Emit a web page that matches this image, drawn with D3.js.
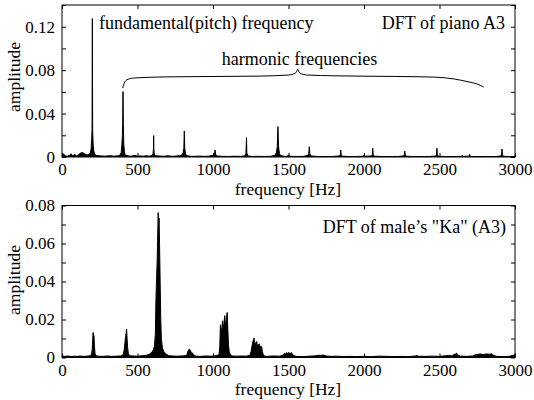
<!DOCTYPE html>
<html><head><meta charset="utf-8">
<script src="https://cdn.jsdelivr.net/npm/d3@7/dist/d3.min.js"></script>
<style>body{margin:0;background:#fff}svg{display:block}svg text{font-family:'Liberation Serif',Tinos,'Times New Roman',Times,serif !important;fill:#000}</style>
</head><body><svg id="c" width="534" height="400"></svg>
<script>
// ---- data ----
const xTicks = [0, 500, 1000, 1500, 2000, 2500, 3000];
const pianoYTicks = [0, 0.04, 0.08, 0.12];
const pianoYMinor = [0, 0.02, 0.04, 0.06, 0.08, 0.10, 0.12, 0.14];
const voiceYTicks = [0, 0.02, 0.04, 0.06, 0.08];
const voiceYMinor = [0, 0.01, 0.02, 0.03, 0.04, 0.05, 0.06, 0.07, 0.08];

const pianoFreq = [0,10,20,35,50,60,70,85,95,110,120,130,140,150,160,170,180,188,
 193,197,199,201,203,206,210,215,225,
 240,260,280,300,320,340,360,380,392,
 396,400,402,404,406,409,414,420,
 440,460,480,500,520,540,560,580,598,
 603,606,607,608,611,616,
 640,660,680,700,720,740,760,780,795,
 802,807,810,813,818,826,
 850,880,910,940,970,995,1000,1005,
 1010,1014,1016,1022,
 1060,1100,1140,1180,1210,
 1218,1222,1224,1230,
 1260,1300,1340,1380,1410,
 1420,1426,1430,1434,1440,1450,
 1480,1494,1499,1504,1520,1560,1600,1628,
 1634,1638,1641,1648,
 1690,1740,1790,1838,
 1843,1846,1849,1856,
 1900,1950,1996,2000,2004,2050,
 2055,2058,2061,2068,
 2120,2170,2220,2262,
 2267,2270,2273,2280,
 2330,2380,2430,2475,
 2480,2483,2486,2494,
 2550,2600,2647,2651,2655,2695,
 2698,2700,2702,2708,
 2760,2820,2870,2908,
 2911,2914,2917,2925,
 2960,3000];
const pianoAmp = [0.0015,0.003,0.001,0.0008,0.0015,0.003,0.0012,0.0025,0.001,0.002,0.0035,0.004,0.0038,0.003,0.002,0.002,0.0025,0.004,
 0.008,0.018,0.025,0.1275,0.025,0.012,0.006,0.003,0.0015,
 0.0012,0.001,0.0008,0.001,0.0012,0.0008,0.001,0.0012,0.004,
 0.01,0.02,0.031,0.0603,0.031,0.012,0.004,0.0015,
 0.001,0.0008,0.0015,0.0008,0.001,0.0008,0.0012,0.0008,0.0015,
 0.003,0.008,0.0197,0.008,0.003,0.0012,
 0.001,0.0008,0.0007,0.0012,0.0008,0.0007,0.001,0.0012,0.002,
 0.004,0.008,0.024,0.008,0.003,0.0012,
 0.0007,0.0006,0.0008,0.0006,0.0007,0.0015,0.0008,0.0009,
 0.0025,0.0065,0.0035,0.001,
 0.0006,0.0005,0.0007,0.0006,0.001,
 0.003,0.0178,0.004,0.001,
 0.0005,0.0006,0.0005,0.0006,0.0015,
 0.004,0.01,0.028,0.01,0.003,0.0012,
 0.0005,0.0008,0.002,0.0008,0.0006,0.0005,0.0006,0.0015,
 0.003,0.0095,0.003,0.001,
 0.0005,0.0004,0.0005,0.001,
 0.002,0.0065,0.002,0.0008,
 0.0004,0.0005,0.0007,0.0018,0.0007,0.001,
 0.002,0.008,0.002,0.0008,
 0.0004,0.0005,0.0004,0.001,
 0.002,0.0055,0.002,0.0007,
 0.0004,0.0005,0.0004,0.001,
 0.002,0.008,0.002,0.0007,
 0.0004,0.0005,0.0006,0.0015,0.0006,0.0008,
 0.0012,0.0025,0.0012,0.0005,
 0.0004,0.0005,0.0004,0.001,
 0.002,0.0074,0.002,0.0006,
 0.0004,0.0005];

const voiceFreq = [0,20,40,60,80,100,120,140,160,180,195,
 200,203,206,209,212,215,219,225,
 240,270,300,330,360,390,405,
 412,417,421,425,428,431,435,440,448,
 470,500,530,560,580,595,605,612,618,622,626,630,634,637,640,643,646,650,654,658,665,675,690,705,
 730,760,790,815,828,835,842,848,855,865,875,890,
 920,950,980,1010,1030,
 1040,1045,1049,1053,1058,1063,1067,1072,1078,1083,1088,1094,1098,1103,1108,1116,1130,
 1160,1190,1220,1245,
 1252,1258,1265,1272,1277,1282,1289,1294,1300,1307,1312,1317,1322,1327,1334,1345,
 1360,1400,1440,1465,1472,1480,1488,1495,1502,1510,1518,1526,1534,1550,
 1600,1640,1680,1700,1715,1730,1748,1780,1820,1860,1900,1950,2000,2050,2100,2150,2200,2250,2300,2340,2350,2360,2400,2450,2500,2540,2560,2580,2595,2605,2614,2620,2640,2680,2720,2735,2750,2770,2790,2810,2830,2846,2860,2880,2920,2960,2990,3000];
const voiceAmp = [0.0008,0.0006,0.0008,0.0005,0.0007,0.0006,0.0008,0.0006,0.0007,0.0008,0.0015,
 0.004,0.009,0.0132,0.011,0.0115,0.006,0.002,0.0009,
 0.0007,0.0006,0.0008,0.0006,0.0007,0.0008,0.0015,
 0.004,0.008,0.011,0.013,0.0149,0.01,0.005,0.002,0.0009,
 0.0008,0.0007,0.0009,0.0012,0.0018,0.0028,0.004,0.006,0.012,0.03,0.041,0.05,0.065,0.0763,0.07,0.0733,0.06,0.04,0.02,0.01,0.005,0.003,0.0018,0.001,
 0.0008,0.0007,0.0008,0.0009,0.0015,0.0035,0.0044,0.004,0.003,0.0022,0.001,0.0007,
 0.0006,0.0008,0.0007,0.0008,0.0012,
 0.0015,0.006,0.0172,0.011,0.015,0.0193,0.013,0.018,0.022,0.016,0.02,0.0237,0.015,0.006,0.003,0.0012,0.0008,
 0.0007,0.0008,0.0007,0.0012,
 0.003,0.006,0.0085,0.0102,0.007,0.0075,0.0084,0.0062,0.0066,0.0072,0.005,0.006,0.0058,0.003,0.0012,0.0007,
 0.0006,0.0008,0.0007,0.0012,0.0022,0.0018,0.0026,0.002,0.0027,0.0019,0.0026,0.0018,0.001,0.0006,
 0.0005,0.0007,0.0009,0.0012,0.0011,0.0013,0.0008,0.0006,0.0007,0.0005,0.0006,0.0005,0.0006,0.0005,0.0007,0.0006,0.0005,0.0006,0.0005,0.0008,0.0011,0.0007,0.0006,0.0007,0.0006,0.0009,0.0011,0.0009,0.0015,0.0018,0.0023,0.0012,0.0007,0.0006,0.0008,0.0014,0.0016,0.0019,0.0015,0.0019,0.0017,0.002,0.001,0.0006,0.0005,0.0006,0.0012,0.0014];

// brace annotation (in data units)
const braceLeftF = [402,412,430,480,700,1300,1500,1545,1561];
const braceLeftA = [0.0635,0.068,0.0712,0.0728,0.0738,0.0745,0.0755,0.0772,0.081];
const braceRightF = [1561,1577,1622,1800,2200,2462,2600,2682,2750,2793];
const braceRightA = [0.081,0.0772,0.0755,0.0748,0.0742,0.0736,0.0718,0.0695,0.0672,0.0645];

// ---- drawing ----
const FONT = "'Liberation Serif', Tinos, 'Times New Roman', Times, serif";
const svg = d3.select("#c");
const L = 62, R = 515;
function panel(top, bottom, yMax, yTicks, yMinor, yFmt, freq, amp) {
  const x = d3.scaleLinear().domain([0, 3000]).range([L, R]);
  const y = d3.scaleLinear().domain([0, yMax]).range([bottom, top]);
  const g = svg.append("g");
  const pts = freq.map((f, i) => [f, amp[i]]);
  g.append("path").datum(pts)
    .attr("d", d3.area().x(d => x(d[0])).y0(y(0)).y1(d => y(d[1])))
    .attr("fill", "#000");
  g.append("path").datum(pts)
    .attr("d", d3.line().x(d => x(d[0])).y(d => y(d[1])))
    .attr("fill", "none").attr("stroke", "#000").attr("stroke-width", 1);
  const ax = g.append("g").attr("transform", `translate(0,${bottom})`)
    .call(d3.axisBottom(x).tickValues(xTicks).tickSize(-4).tickPadding(6).tickFormat(d3.format("d")));
  ax.attr("font-family", FONT).attr("font-size", 17);
  g.append("g").attr("transform", `translate(0,${top})`)
    .call(d3.axisTop(x).tickValues(xTicks).tickSize(-4).tickFormat(""));
  g.append("g").attr("transform", `translate(${L},0)`)
    .call(d3.axisLeft(y).tickValues(yMinor).tickSize(-4).tickFormat(""));
  const ay = g.append("g").attr("transform", `translate(${L},0)`)
    .call(d3.axisLeft(y).tickValues(yTicks).tickSize(0).tickPadding(7).tickFormat(yFmt));
  ay.attr("font-family", FONT).attr("font-size", 17);
  g.append("g").attr("transform", `translate(${R},0)`)
    .call(d3.axisRight(y).tickValues(yMinor).tickSize(-4).tickFormat(""));
  g.selectAll(".domain").remove();
  g.selectAll(".tick line").attr("stroke", "#000");
  g.append("rect").attr("x", L).attr("y", top).attr("width", R - L).attr("height", bottom - top)
    .attr("fill", "none").attr("stroke", "#000").attr("stroke-width", 1);
  return {x, y, g};
}
const fmt = d => d === 0 ? "0" : d3.format(".2f")(d);
const p1 = panel(5, 157, 0.14, pianoYTicks, pianoYMinor, fmt, pianoFreq, pianoAmp);
const p2 = panel(205.5, 357.5, 0.08, voiceYTicks, voiceYMinor, fmt, voiceFreq, voiceAmp);

function txt(x, y, s, size, anchor) {
  return svg.append("text").attr("x", x).attr("y", y).attr("font-family", FONT)
    .attr("font-size", size).attr("text-anchor", anchor || "start").text(s);
}
txt(288, 194.5, "frequency [Hz]", 17.5, "middle");
txt(288, 394.5, "frequency [Hz]", 17.5, "middle");
function ylabel(cy) {
  svg.append("text").attr("transform", `translate(20,${cy}) rotate(-90)`).attr("font-family", FONT)
    .attr("text-anchor", "middle").attr("font-size", 17.5).text("amplitude");
}
ylabel(77); ylabel(280);

txt(99, 29, "fundamental(pitch) frequency", 18);
txt(505, 29, "DFT of piano A3", 18, "end");
txt(299.5, 65, "harmonic frequencies", 18, "middle");
txt(506, 233, "DFT of male\u2019s \"Ka\" (A3)", 18, "end");

const bl = d3.line().x(d => p1.x(d[0])).y(d => p1.y(d[1])).curve(d3.curveMonotoneX);
svg.append("path").attr("d", bl(braceLeftF.map((f, i) => [f, braceLeftA[i]])))
  .attr("fill", "none").attr("stroke", "#000").attr("stroke-width", 1);
svg.append("path").attr("d", bl(braceRightF.map((f, i) => [f, braceRightA[i]])))
  .attr("fill", "none").attr("stroke", "#000").attr("stroke-width", 1);
</script></body></html>
